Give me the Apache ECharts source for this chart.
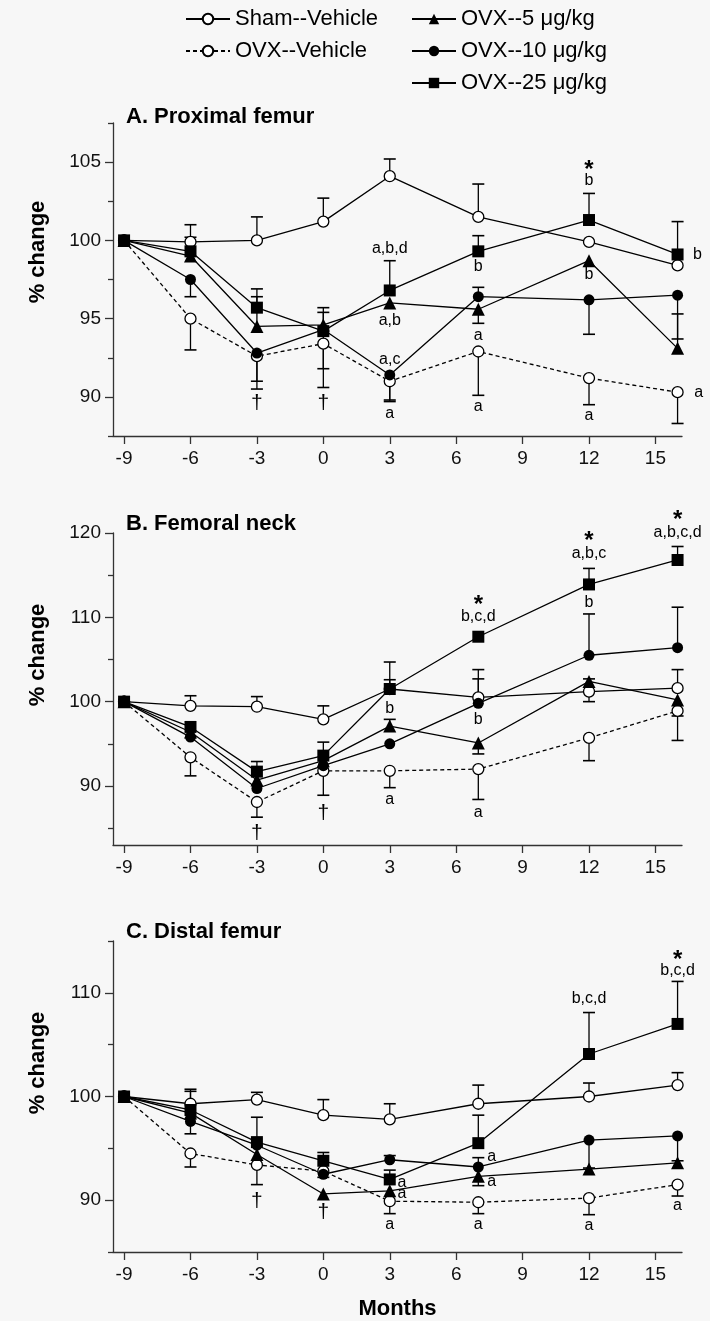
<!DOCTYPE html>
<html>
<head>
<meta charset="utf-8">
<script src="https://cdn.jsdelivr.net/npm/echarts@6/dist/echarts.min.js"></script>
<style>
  html, body { margin: 0; padding: 0; background: #f7f7f7; }
  #chart { width: 710px; height: 1321px; }
</style>
</head>
<body>
<div id="chart"></div>
<script>
// ---- data ----------------------------------------------------------------
const months = [-9, -6, -3, 0, 3, 7, 12, 16];
const xTicks = [-9, -6, -3, 0, 3, 6, 9, 12, 15];
const groupNames = ['Sham--Vehicle', 'OVX--Vehicle', 'OVX--5 μg/kg', 'OVX--10 μg/kg', 'OVX--25 μg/kg'];
const panelTitles = ['A. Proximal femur', 'B. Femoral neck', 'C. Distal femur'];

// A. Proximal femur (% of baseline)
const shamA  = [100, 99.9, 100.0, 101.2, 104.1, 101.5, 99.9, 98.4];
const ovxVehA = [100, 95.0, 92.6, 93.4, 91.0, 92.9, 91.2, 90.3];
const ovx5A  = [100, 99.0, 94.5, 94.6, 96.0, 95.6, 98.7, 93.1];
const ovx10A = [100, 97.5, 92.8, 94.3, 91.4, 96.4, 96.2, 96.5];
const ovx25A = [100, 99.3, 95.7, 94.2, 96.8, 99.3, 101.3, 99.1];
// one-sided SEM (positive = drawn upward, negative = downward)
const shamAErr  = [0, 1.1, 1.5, 1.5, 1.1, 2.1, 0, 0];
const ovxVehAErr = [0, -2.0, -2.1, -2.8, -1.3, -2.8, -1.7, -2.0];
const ovx5AErr  = [0, 0, 1.9, 1.1, 0, -0.9, 0, 2.2];
const ovx10AErr = [0, -1.1, -1.8, -2.5, -1.6, 0.6, -2.2, -2.8];
const ovx25AErr = [0, 0.9, 1.2, 1.2, 1.9, 1.0, 1.7, 2.1];
const yMajorA = [90, 95, 100, 105];
const yMinorA = [87.5, 92.5, 97.5, 102.5, 107.5];
const notesA = [
  [-3, 89.6, '†'], [0, 89.6, '†'],
  [3, 99.5, 'a,b,d'], [3, 94.9, 'a,b'], [3, 92.4, 'a,c'], [3, 88.9, 'a'],
  [7, 98.3, 'b'], [7, 93.9, 'a'], [7, 89.4, 'a'],
  [12, 104.8, '*'], [12, 103.8, 'b'], [12, 97.8, 'b'], [12, 88.8, 'a'],
  [16.9, 99.1, 'b'], [16.95, 90.3, 'a']
];

// B. Femoral neck
const shamB  = [100, 99.5, 99.4, 97.9, 101.5, 100.5, 101.2, 101.6];
const ovxVehB = [100, 93.4, 88.1, 91.8, 91.8, 92.0, 95.7, 98.9];
const ovx5B  = [100, 96.4, 90.7, 93.0, 97.1, 95.1, 102.4, 100.2];
const ovx10B = [100, 95.8, 89.7, 92.4, 95.0, 99.8, 105.5, 106.4];
const ovx25B = [100, 97.0, 91.7, 93.6, 101.5, 107.7, 113.9, 116.8];
const shamBErr  = [0, 1.2, 1.2, 1.6, 3.2, 3.3, -1.2, 2.2];
const ovxVehBErr = [0, -2.2, -1.8, -2.9, -2.0, -3.6, -2.7, -3.5];
const ovx5BErr  = [0, 0, 0, 0, 0.8, -1.3, 0.3, -1.9];
const ovx10BErr = [0, 0, 0, 0, 0, 2.9, 4.9, 4.8];
const ovx25BErr = [0, 0, 1.2, 1.6, 1.1, 0, 1.9, 1.6];
const yMajorB = [90, 100, 110, 120];
const yMinorB = [85, 95, 105, 115];
const notesB = [
  [-3, 84.4, '†'], [0, 86.8, '†'],
  [3, 99.2, 'b'], [3, 88.4, 'a'],
  [7, 112.0, '*'], [7, 110.1, 'b,c,d'], [7, 97.9, 'b'], [7, 86.9, 'a'],
  [12, 119.6, '*'], [12, 117.5, 'a,b,c'], [12, 111.7, 'b'],
  [16, 122.1, '*'], [16, 120.1, 'a,b,c,d']
];

// C. Distal femur
const shamC  = [100, 99.3, 99.7, 98.2, 97.8, 99.3, 100.0, 101.1];
const ovxVehC = [100, 94.5, 93.4, 92.8, 89.9, 89.8, 90.2, 91.5];
const ovx5C  = [100, 98.4, 94.4, 90.6, 90.9, 92.3, 93.0, 93.6];
const ovx10C = [100, 97.6, 95.3, 92.5, 93.9, 93.2, 95.8, 96.2];
const ovx25C = [100, 98.7, 95.6, 93.8, 92.0, 95.5, 104.1, 107.0];
const shamCErr  = [0, 1.2, 0.7, 1.5, 1.5, 1.8, 1.3, 1.2];
const ovxVehCErr = [0, -1.3, -1.9, 0, -1.2, -1.1, -1.6, -1.1];
const ovx5CErr  = [0, 0, 0, 0, 0, -0.9, 0, 0];
const ovx10CErr = [0, -1.2, 0, -0.3, 0.4, 0.9, -2.7, -2.4];
const ovx25CErr = [0, 2.0, 2.4, 0.8, 0.9, 2.7, 4.0, 4.1];
const yMajorC = [90, 100, 110];
const yMinorC = [85, 95, 105, 115];
const notesC = [
  [-3, 89.9, '†'], [0, 88.8, '†'],
  [3.55, 91.7, 'a'], [3.55, 90.6, 'a'], [3, 87.6, 'a'],
  [7.6, 94.2, 'a'], [7.6, 91.8, 'a'], [7, 87.6, 'a'],
  [12, 109.4, 'b,c,d'], [12, 87.5, 'a'],
  [16, 113.6, '*'], [16, 112.1, 'b,c,d'], [16, 89.5, 'a']
];

// ---- panel assembly -------------------------------------------------------
const FONT = 'Liberation Sans, Arial, sans-serif';
const panels = [
  { title: panelTitles[0], min: 87.5, max: 107.5, major: yMajorA, minor: yMinorA,
    values: [shamA, ovxVehA, ovx5A, ovx10A, ovx25A],
    errs: [shamAErr, ovxVehAErr, ovx5AErr, ovx10AErr, ovx25AErr], notes: notesA,
    top: 123, height: 313, titleY: 117, yNameY: 252 },
  { title: panelTitles[1], min: 83, max: 120, major: yMajorB, minor: yMinorB,
    values: [shamB, ovxVehB, ovx5B, ovx10B, ovx25B],
    errs: [shamBErr, ovxVehBErr, ovx5BErr, ovx10BErr, ovx25BErr], notes: notesB,
    top: 533, height: 312, titleY: 524, yNameY: 655 },
  { title: panelTitles[2], min: 85, max: 115, major: yMajorC, minor: yMinorC,
    values: [shamC, ovxVehC, ovx5C, ovx10C, ovx25C],
    errs: [shamCErr, ovxVehCErr, ovx5CErr, ovx10CErr, ovx25CErr], notes: notesC,
    top: 941, height: 312, titleY: 932, yNameY: 1063 }
];

// marker look of each group
const groupStyles = [
  { symbol: 'circle',   size: 11, fill: '#ffffff', dashed: false },
  { symbol: 'circle',   size: 11, fill: '#ffffff', dashed: true },
  { symbol: 'triangle', size: 13, fill: '#000000', dashed: false },
  { symbol: 'circle',   size: 11, fill: '#000000', dashed: false },
  { symbol: 'rect',     size: 12, fill: '#000000', dashed: false }
];

const grids = [], xAxes = [], yAxes = [], series = [], graphics = [];

function errorBarItem(params, api) {
  const e = api.value(2);
  if (!e) return null;
  const x = api.value(0), y = api.value(1);
  const p0 = api.coord([x, y]);
  const p1 = api.coord([x, y + e]);
  return {
    type: 'group',
    children: [
      { type: 'line', shape: { x1: p0[0], y1: p0[1], x2: p1[0], y2: p1[1] },
        style: { stroke: '#000', lineWidth: 1.3 } },
      { type: 'line', shape: { x1: p1[0] - 6, y1: p1[1], x2: p1[0] + 6, y2: p1[1] },
        style: { stroke: '#000', lineWidth: 1.6 } }
    ]
  };
}

panels.forEach((p, k) => {
  grids.push({ left: 113, width: 569, top: p.top, height: p.height });
  xAxes.push({
    type: 'value', gridIndex: k, min: -9.5, max: 16.2,
    name: k === 2 ? 'Months' : '', nameLocation: 'middle', nameGap: 46,
    nameTextStyle: { fontFamily: FONT, fontSize: 22, fontWeight: 'bold', color: '#000' },
    axisLine: { onZero: false, lineStyle: { color: '#333', width: 1.3 } },
    axisTick: { customValues: xTicks, length: 8, lineStyle: { color: '#333', width: 1.3 } },
    axisLabel: { customValues: xTicks, margin: 13, fontFamily: FONT, fontSize: 19, color: '#111' },
    splitLine: { show: false }
  });
  // labelled axis with long ticks
  yAxes.push({
    type: 'value', gridIndex: k, position: 'left', min: p.min, max: p.max,
    axisLine: { show: true, onZero: false, lineStyle: { color: '#333', width: 1.3 } },
    axisTick: { customValues: p.major, length: 8, lineStyle: { color: '#333', width: 1.3 } },
    axisLabel: { customValues: p.major, margin: 12, fontFamily: FONT, fontSize: 19, color: '#111' },
    splitLine: { show: false }
  });
  // short intermediate ticks
  yAxes.push({
    type: 'value', gridIndex: k, position: 'left', min: p.min, max: p.max,
    axisLine: { show: false, onZero: false },
    axisTick: { customValues: p.minor, length: 5, lineStyle: { color: '#333', width: 1.3 } },
    axisLabel: { show: false },
    splitLine: { show: false }
  });

  p.values.forEach((vals, g) => {
    series.push({
      type: 'custom', xAxisIndex: k, yAxisIndex: 2 * k, z: 1,
      renderItem: errorBarItem, encode: { x: 0, y: 1 }, silent: true,
      data: months.map((m, i) => [m, vals[i], p.errs[g][i]])
    });
  });
  p.values.forEach((vals, g) => {
    const st = groupStyles[g];
    series.push({
      type: 'line', name: groupNames[g], xAxisIndex: k, yAxisIndex: 2 * k, z: 3,
      data: months.map((m, i) => [m, vals[i]]),
      symbol: st.symbol, symbolSize: st.size, showAllSymbol: true,
      lineStyle: { color: '#000', width: 1.3, type: st.dashed ? [4, 3] : 'solid' },
      itemStyle: { color: st.fill, borderColor: '#000', borderWidth: st.fill === '#ffffff' ? 1.3 : 0 },
      emphasis: { disabled: true }, animation: false
    });
  });
  const notes = p.notes;
  series.push({
    type: 'custom', xAxisIndex: k, yAxisIndex: 2 * k, z: 5, silent: true,
    encode: { x: 0, y: 1 },
    data: notes.map(n => [n[0], n[1]]),
    renderItem: (params, api) => {
      const t = notes[params.dataIndex][2];
      const c = api.coord([api.value(0), api.value(1)]);
      const star = t === '*';
      const dagger = t === '†';
      return {
        type: 'text', x: c[0], y: c[1] + (star ? 5 : 0),
        style: {
          text: t, textAlign: 'center', textVerticalAlign: 'middle', fill: '#000',
          font: star ? 'bold 24px ' + FONT : (dagger ? '21px ' + FONT : '16px ' + FONT)
        }
      };
    }
  });

  graphics.push({
    type: 'text', x: 126, y: p.titleY,
    style: { text: p.title, font: 'bold 22px ' + FONT, fill: '#000', textVerticalAlign: 'middle' }
  });
  graphics.push({
    type: 'text', x: 38, y: p.yNameY, rotation: Math.PI / 2,
    style: { text: '% change', font: 'bold 22px ' + FONT, fill: '#000',
             textAlign: 'center', textVerticalAlign: 'middle' }
  });
});

const legendCommon = {
  orient: 'vertical', itemWidth: 44, itemHeight: 13, itemGap: 10, selectedMode: false,
  textStyle: { fontFamily: FONT, fontSize: 22, color: '#000' }
};

const chart = echarts.init(document.getElementById('chart'), null, { renderer: 'canvas' });
chart.setOption({
  backgroundColor: '#f7f7f7',
  animation: false,
  legend: [
    Object.assign({ left: 180, top: 3, data: groupNames.slice(0, 2) }, legendCommon),
    Object.assign({ left: 406, top: 3, data: groupNames.slice(2) }, legendCommon)
  ],
  grid: grids,
  xAxis: xAxes,
  yAxis: yAxes,
  series: series,
  graphic: graphics
});
</script>
</body>
</html>
